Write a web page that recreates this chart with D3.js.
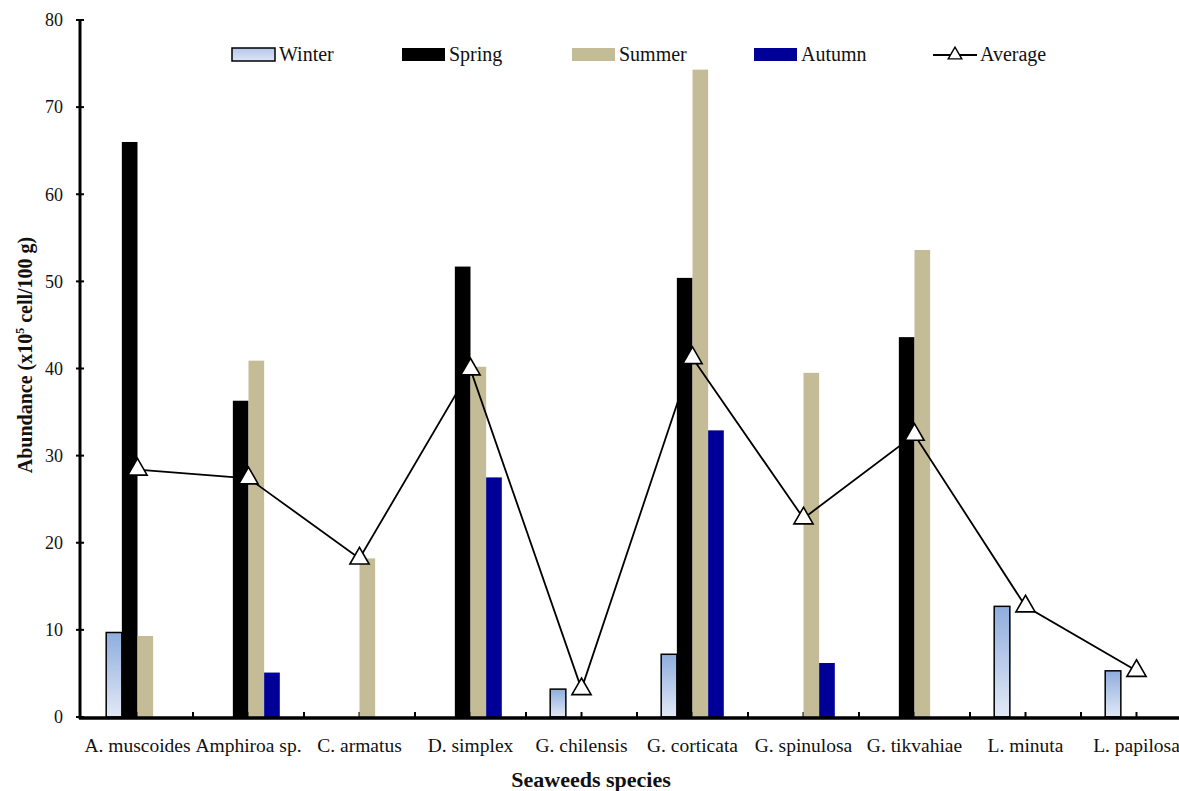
<!DOCTYPE html>
<html>
<head>
<meta charset="utf-8">
<script src="https://cdn.jsdelivr.net/npm/d3@7"></script>
<style>
  html, body { margin: 0; padding: 0; background: #fff; }
  svg { display: block; }
  text { font-family: "Liberation Serif", "Times New Roman", serif; fill: #111; }
</style>
</head>
<body>
<svg id="chart" width="1179" height="791"></svg>
<script>
const categories = ["A. muscoides","Amphiroa sp.","C. armatus","D. simplex","G. chilensis","G. corticata","G. spinulosa","G. tikvahiae","L. minuta","L. papilosa"];
const seasons = ["Winter","Spring","Summer","Autumn"];
const winter = [9.7, 0, 0, 0, 3.2, 7.2, 0, 0, 12.7, 5.3];
const spring = [66.0, 36.3, 0, 51.7, 0, 50.4, 0, 43.6, 0, 0];
const summer = [9.3, 40.9, 18.2, 40.2, 0, 74.3, 39.5, 53.6, 0, 0];
const autumn = [0, 5.1, 0, 27.5, 0, 32.9, 6.2, 0, 0, 0];
const average = [28.4, 27.4, 18.2, 39.9, 3.2, 41.2, 22.8, 32.4, 12.7, 5.3];
const yTicks = [0, 10, 20, 30, 40, 50, 60, 70, 80];

const seriesValues = { Winter: winter, Spring: spring, Summer: summer, Autumn: autumn };
const colors = { Winter: "url(#winterGrad)", Spring: "#000000", Summer: "#c4bc96", Autumn: "#000099" };

const svg = d3.select("#chart");
const defs = svg.append("defs");
const grad = defs.append("linearGradient").attr("id", "winterGrad")
  .attr("x1", 0).attr("y1", 0).attr("x2", 0).attr("y2", 1);
grad.append("stop").attr("offset", "0%").attr("stop-color", "#8fadde");
grad.append("stop").attr("offset", "100%").attr("stop-color", "#e2e9f6");
const lgrad = defs.append("linearGradient").attr("id", "winterLeg")
  .attr("x1", 0).attr("y1", 0).attr("x2", 0).attr("y2", 1);
lgrad.append("stop").attr("offset", "0%").attr("stop-color", "#b4c6ea");
lgrad.append("stop").attr("offset", "100%").attr("stop-color", "#dde6f6");

const x0Left = 82, bandW = 111;
const x = d3.scaleBand().domain(categories)
  .range([x0Left, x0Left + bandW * categories.length]).paddingInner(0).paddingOuter(0);
const x1 = d3.scaleBand().domain(seasons).range([0, x.bandwidth()]).paddingInner(0).paddingOuter(1.546);
const y = d3.scaleLinear().domain([0, 80]).range([717, 20]);

// x ticks (boundaries and centers), drawn under bars
const xTickPos = [];
categories.forEach((c, i) => {
  if (i > 0) xTickPos.push(x(c));
  xTickPos.push(x(c) + x.bandwidth() / 2);
});
svg.append("g").selectAll("line").data(xTickPos).join("line")
  .attr("x1", d => d).attr("x2", d => d)
  .attr("y1", y(0)).attr("y2", y(0) - 5)
  .attr("stroke", "#000").attr("stroke-width", 2);

// bars
const barData = [];
categories.forEach((c, i) => {
  seasons.forEach(s => {
    const v = seriesValues[s][i];
    if (v > 0) barData.push({ c, s, v });
  });
});
svg.append("g").selectAll("rect").data(barData).join("rect")
  .attr("x", d => x(d.c) + x1(d.s))
  .attr("width", x1.bandwidth())
  .attr("y", d => y(d.v))
  .attr("height", d => y(0) - y(d.v))
  .attr("fill", d => colors[d.s])
  .attr("stroke", d => d.s === "Winter" ? "#000" : "none")
  .attr("stroke-width", d => d.s === "Winter" ? 1.5 : 0);

// y axis
const yAxis = svg.append("g");
yAxis.append("line").attr("x1", 80).attr("x2", 80).attr("y1", y(80) - 1).attr("y2", y(0) + 2)
  .attr("stroke", "#000").attr("stroke-width", 3);
yAxis.selectAll("line.tk").data(yTicks).join("line").attr("class", "tk")
  .attr("x1", 76).attr("x2", 84).attr("y1", d => y(d)).attr("y2", d => y(d))
  .attr("stroke", "#000").attr("stroke-width", 2);
yAxis.selectAll("text").data(yTicks).join("text")
  .attr("x", 63).attr("y", d => y(d)).attr("dy", "0.35em")
  .attr("text-anchor", "end").attr("font-size", 18).text(d => d);

// x axis line
svg.append("line").attr("x1", 79).attr("x2", 1179).attr("y1", y(0) + 1).attr("y2", y(0) + 1)
  .attr("stroke", "#000").attr("stroke-width", 3.5);

// x labels
svg.append("g").selectAll("text").data(categories).join("text")
  .attr("x", d => x(d) + x.bandwidth() / 2).attr("y", 752)
  .attr("text-anchor", "middle").attr("font-size", 19.5).text(d => d);

// average line
const line = d3.line().x((d, i) => x(categories[i]) + x.bandwidth() / 2).y(d => y(d));
svg.append("path").datum(average).attr("d", line)
  .attr("fill", "none").attr("stroke", "#000").attr("stroke-width", 1.8);
const tri = d3.symbol().type(d3.symbolTriangle).size(160);
svg.append("g").selectAll("path").data(average).join("path")
  .attr("transform", (d, i) => `translate(${x(categories[i]) + x.bandwidth() / 2},${y(d)})`)
  .attr("d", tri).attr("fill", "#fff").attr("stroke", "#000").attr("stroke-width", 1.6);

// axis titles
svg.append("text").attr("x", 591).attr("y", 787).attr("text-anchor", "middle")
  .attr("font-size", 22).attr("font-weight", "bold").text("Seaweeds species");
const yt = svg.append("text").attr("transform", "translate(32,355) rotate(-90)")
  .attr("text-anchor", "middle").attr("font-size", 20).attr("font-weight", "bold");
yt.append("tspan").text("Abundance (x10");
yt.append("tspan").attr("font-size", 12).attr("dy", -8).text("5");
yt.append("tspan").attr("dy", 8).text(" cell/100 g)");

// legend
const legendItems = [
  { s: "Winter", x: 232 },
  { s: "Spring", x: 402 },
  { s: "Summer", x: 572 },
  { s: "Autumn", x: 754 },
  { s: "Average", x: 933 }
];
const lg = svg.append("g");
legendItems.forEach(it => {
  if (it.s === "Average") {
    lg.append("line").attr("x1", it.x).attr("x2", it.x + 44).attr("y1", 55).attr("y2", 55)
      .attr("stroke", "#000").attr("stroke-width", 1.8);
    lg.append("path").attr("transform", `translate(${it.x + 22},55)`)
      .attr("d", d3.symbol().type(d3.symbolTriangle).size(80))
      .attr("fill", "#fff").attr("stroke", "#000").attr("stroke-width", 1.4);
  } else {
    lg.append("rect").attr("x", it.x).attr("y", 48).attr("width", 43).attr("height", 13)
      .attr("fill", it.s === "Winter" ? "url(#winterLeg)" : colors[it.s])
      .attr("stroke", it.s === "Winter" ? "#000" : "none").attr("stroke-width", 1.5);
  }
  lg.append("text").attr("x", it.x + 47).attr("y", 61).attr("font-size", 20).text(it.s);
});
</script>
</body>
</html>
